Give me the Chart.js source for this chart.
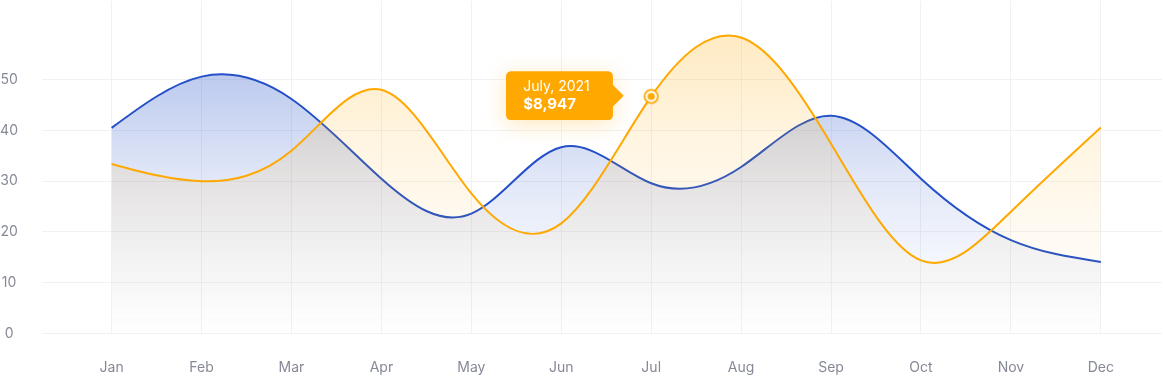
<!DOCTYPE html>
<html>
<head>
<meta charset="utf-8">
<script src="https://cdn.jsdelivr.net/npm/chart.js@4.4.1/dist/chart.umd.min.js"></script>
<style>
  html, body { margin: 0; padding: 0; background: #fff; }
  #wrap { width: 1163px; height: 380px; position: relative; }
</style>
</head>
<body>
<div id="wrap"><canvas id="chart"></canvas></div>
<script>
/* ─── data ─────────────────────────────────────────────── */

const months = ['Jan', 'Feb', 'Mar', 'Apr', 'May', 'Jun', 'Jul', 'Aug', 'Sep', 'Oct', 'Nov', 'Dec'];
const blueValues = [40.5, 50.6, 46.2, 30.5, 23.6, 36.7, 29.6, 32.8, 42.9, 30.5, 18.4, 14.1];
const orangeValues = [33.4, 30.0, 36.0, 48.0, 27.6, 21.7, 46.7, 58.3, 37.4, 14.4, 24.0, 40.6];
const yTicks = [0, 10, 20, 30, 40, 50];

const tooltipIndex = 6;
const tooltipTitle = 'July, 2021';
const tooltipAmount = '$8,947';

/* ─── styling ──────────────────────────────────────────── */

const BLUE = '#2350c8';
const ORANGE = '#ffa800';
const GRID = '#f1f1f4';
const LABEL = '#868996';

function verticalGradient(rgb, stops) {
  return (context) => {
    const { ctx, chartArea } = context.chart;
    if (!chartArea) return null;
    const g = ctx.createLinearGradient(0, chartArea.top, 0, chartArea.bottom);
    stops.forEach(([pos, a]) => g.addColorStop(pos, `rgba(${rgb}, ${a})`));
    return g;
  };
}

// ring + dot marker used for the highlighted point
function ringMarker() {
  const c = document.createElement('canvas');
  c.width = 18; c.height = 18;
  const x = c.getContext('2d');
  const circle = (r, color) => { x.beginPath(); x.arc(9, 9, r, 0, Math.PI * 2); x.fillStyle = color; x.fill(); };
  circle(7.6, ORANGE);
  circle(5.8, '#fff');
  circle(3.6, ORANGE);
  return c;
}
const marker = ringMarker();

// replace Chart.js' bezier handles with a natural cubic spline through the same points
const naturalSpline = {
  id: 'naturalSpline',
  beforeDatasetsDraw(chart) {
    chart.getSortedVisibleDatasetMetas().forEach((meta) => {
      const line = meta.dataset;
      line.updateControlPoints(chart.chartArea, meta.indexAxis);
      const pts = line.points;
      const n = pts.length;
      if (n < 3) return;
      const h = pts.map((p, i) => (i ? p.x - pts[i - 1].x : 0));
      // solve for second derivatives (M0 = Mn-1 = 0)
      const a = [], b = [], c = [], d = [];
      for (let i = 1; i < n - 1; i++) {
        a.push(h[i]);
        b.push(2 * (h[i] + h[i + 1]));
        c.push(h[i + 1]);
        d.push(6 * ((pts[i + 1].y - pts[i].y) / h[i + 1] - (pts[i].y - pts[i - 1].y) / h[i]));
      }
      const m = d.length;
      for (let i = 1; i < m; i++) {
        const w = a[i] / b[i - 1];
        b[i] -= w * c[i - 1];
        d[i] -= w * d[i - 1];
      }
      const M = new Array(n).fill(0);
      for (let i = m - 1; i >= 0; i--) {
        M[i + 1] = (d[i] - (i < m - 1 ? c[i] * M[i + 2] : 0)) / b[i];
      }
      for (let i = 0; i < n - 1; i++) {
        const p0 = pts[i], p1 = pts[i + 1], hh = h[i + 1];
        const slope = (p1.y - p0.y) / hh;
        const s0 = slope - hh * (2 * M[i] + M[i + 1]) / 6;
        const s1 = slope + hh * (M[i] + 2 * M[i + 1]) / 6;
        p0.cp2x = p0.x + hh / 3;
        p0.cp2y = p0.y + s0 * hh / 3;
        p1.cp1x = p1.x - hh / 3;
        p1.cp1y = p1.y - s1 * hh / 3;
      }
    });
  },
};

const tooltipShadow = {
  id: 'tooltipShadow',
  beforeTooltipDraw(chart, args) {
    const tt = args.tooltip;
    if (!tt.opacity) return;
    const { ctx } = chart;
    ctx.save();
    ctx.shadowColor = 'rgba(255, 168, 0, 0.28)';
    ctx.shadowBlur = 22;
    ctx.shadowOffsetY = 4;
    ctx.fillStyle = ORANGE;
    ctx.beginPath();
    ctx.roundRect(tt.x, tt.y, tt.width, tt.height, 5);
    ctx.fill();
    ctx.restore();
  },
};

const font = { family: 'Inter', size: 14 };

const chart = new Chart(document.getElementById('chart'), {
  type: 'line',
  data: {
    datasets: [
      {
        data: orangeValues.map((v, i) => ({ x: i, y: v })),
        borderColor: ORANGE,
        borderWidth: 2,
        tension: 0.4,
        fill: 'origin',
        backgroundColor: verticalGradient('255, 168, 0', [[0, 0.26], [0.15, 0.22], [0.4, 0.12], [0.7, 0.05], [1, 0]]),
        pointStyle: (ctx) => (ctx.dataIndex === tooltipIndex ? marker : 'circle'),
        pointRadius: (ctx) => (ctx.dataIndex === tooltipIndex ? 8 : 0),
        pointHoverRadius: (ctx) => (ctx.dataIndex === tooltipIndex ? 8 : 0),
      },
      {
        data: blueValues.map((v, i) => ({ x: i, y: v })),
        borderColor: BLUE,
        borderWidth: 2,
        tension: 0.4,
        fill: 'origin',
        backgroundColor: verticalGradient('35, 80, 200', [[0, 0.36], [0.22, 0.3], [0.52, 0.14], [0.75, 0.06], [1, 0]]),
        pointRadius: 0,
        pointHoverRadius: 0,
      },
    ],
  },
  options: {
    responsive: true,
    maintainAspectRatio: false,
    animation: false,
    events: [],
    layout: { padding: 0 },
    scales: {
      x: {
        type: 'linear',
        min: -0.774,
        max: 11.68,
        afterBuildTicks: (scale) => { scale.ticks = months.map((_, i) => ({ value: i })); },
        afterFit: (scale) => {
          scale.height = 46.5;
          scale.paddingLeft = 0;
          scale.paddingRight = 0;
        },
        grid: { color: GRID, drawTicks: false },
        border: { display: false },
        ticks: {
          font,
          color: LABEL,
          padding: 26,
          maxRotation: 0,
          autoSkip: false,
          callback: (v) => months[v],
        },
      },
      y: {
        min: 0,
        max: 65.5,
        afterBuildTicks: (scale) => { scale.ticks = yTicks.map((v) => ({ value: v })); },
        afterFit: (scale) => {
          scale.width = 42;
          scale.paddingTop = 0;
          scale.paddingBottom = 0;
        },
        grid: { color: GRID, drawTicks: false },
        border: { display: false },
        ticks: { font, color: LABEL, padding: 24, crossAlign: 'center' },
      },
    },
    plugins: {
      legend: { display: false },
      tooltip: {
        enabled: true,
        backgroundColor: ORANGE,
        titleColor: '#fff',
        bodyColor: '#fff',
        titleFont: { family: 'Inter', size: 14, weight: 'normal', lineHeight: 1.15 },
        bodyFont: { family: 'Inter', size: 15, weight: 'bold', lineHeight: 1.15 },
        titleMarginBottom: 1,
        padding: { top: 7, bottom: 7, left: 17, right: 23 },
        cornerRadius: 5,
        caretSize: 11,
        caretPadding: 28,
        xAlign: 'right',
        yAlign: 'center',
        displayColors: false,
        callbacks: {
          title: () => tooltipTitle,
          label: () => tooltipAmount,
        },
      },
    },
  },
  plugins: [naturalSpline, tooltipShadow],
});

const el = chart.getDatasetMeta(0).data[tooltipIndex];
chart.tooltip.setActiveElements([{ datasetIndex: 0, index: tooltipIndex }], { x: el.x, y: el.y });
chart.update();
</script>
</body>
</html>
